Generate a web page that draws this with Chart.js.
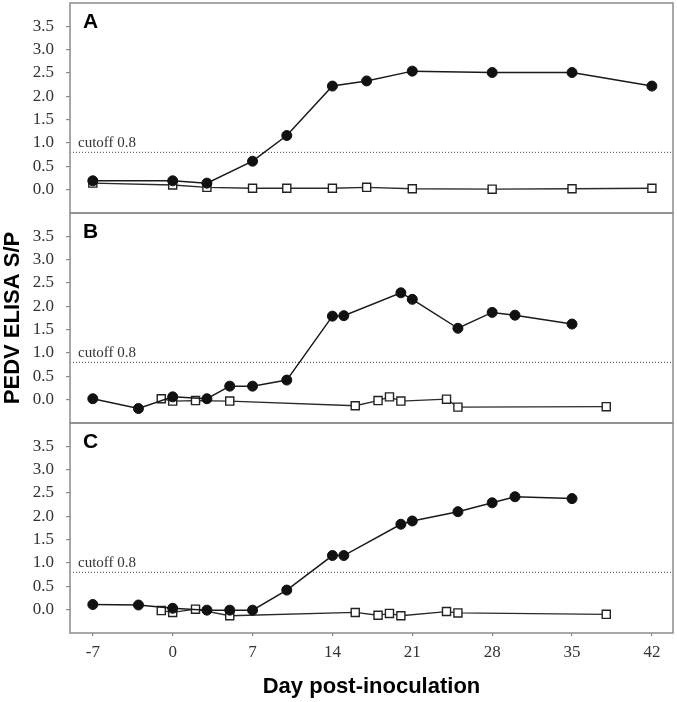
<!DOCTYPE html>
<html>
<head>
<meta charset="utf-8">
<script src="https://cdn.jsdelivr.net/npm/chart.js@4/dist/chart.umd.min.js"></script>
<style>
  html, body { margin: 0; padding: 0; background: #fff; }
  #wrap { position: relative; width: 677px; height: 702px; }
  #wrap canvas { position: absolute; left: 0; top: 0; }
</style>
</head>
<body>
<div id="wrap">
  <canvas id="cA" width="677" height="702"></canvas>
  <canvas id="cB" width="677" height="702"></canvas>
  <canvas id="cC" width="677" height="702"></canvas>
</div>
<script>
// ---- data ----
const xTickValues = [-7, 0, 7, 14, 21, 28, 35, 42];
const yTickValues = [0, 0.5, 1, 1.5, 2, 2.5, 3, 3.5];
const xMin = -9, xMax = 43.85;
const yMin = -0.5, yMax = 4.0;
const cutoff = 0.8;
const xTitle = 'Day post-inoculation';
const yTitle = 'PEDV ELISA S/P';

const aInfDays = [-7, 0, 3, 7, 10, 14, 17, 21, 28, 35, 42];
const aInfVals = [0.19, 0.19, 0.14, 0.61, 1.16, 2.22, 2.33, 2.54, 2.51, 2.51, 2.22];
const aCtlDays = [-7, 0, 3, 7, 10, 14, 17, 21, 28, 35, 42];
const aCtlVals = [0.14, 0.10, 0.05, 0.03, 0.03, 0.03, 0.05, 0.02, 0.01, 0.02, 0.03];

const bInfDays = [-7, -3, 0, 3, 5, 7, 10, 14, 15, 20, 21, 25, 28, 30, 35];
const bInfVals = [0.02, -0.19, 0.06, 0.02, 0.29, 0.29, 0.42, 1.79, 1.80, 2.29, 2.15, 1.53, 1.87, 1.81, 1.62];
const bCtlDays = [-1, 0, 2, 5, 16, 18, 19, 20, 24, 25, 38];
const bCtlVals = [0.02, -0.03, -0.02, -0.03, -0.13, -0.02, 0.06, -0.03, 0.01, -0.16, -0.15];

const cInfDays = [-7, -3, 0, 3, 5, 7, 10, 14, 15, 20, 21, 25, 28, 30, 35];
const cInfVals = [0.11, 0.10, 0.03, -0.01, -0.01, -0.01, 0.42, 1.16, 1.16, 1.83, 1.90, 2.10, 2.29, 2.42, 2.38];
const cCtlDays = [-1, 0, 2, 5, 16, 18, 19, 20, 24, 25, 38];
const cCtlVals = [-0.02, -0.06, 0.01, -0.13, -0.06, -0.12, -0.08, -0.13, -0.04, -0.07, -0.10];

// ---- helpers ----
const W = 677, H = 702;
const AXIS_LEFT = 70, RIGHT_PAD = 4;
const SERIF = "'Liberation Serif', 'Times New Roman', serif";
const SANS = "'Liberation Sans', Arial, sans-serif";
const FRAME = '#8c8c8c';

function pts(days, vals) { return days.map((d, i) => ({ x: d, y: vals[i] })); }

const panelPlugin = {
  id: 'panelDeco',
  afterDatasetsDraw(chart, args, opts) {
    const { ctx, chartArea } = chart;
    const ys = chart.scales.y;
    ctx.save();
    ctx.strokeStyle = FRAME;
    ctx.lineWidth = 1.5;
    ctx.strokeRect(chartArea.left, chartArea.top, chartArea.right - chartArea.left, chartArea.bottom - chartArea.top);
    ctx.fillStyle = '#333';
    ctx.font = '15px ' + SERIF;
    ctx.textBaseline = 'alphabetic';
    ctx.textAlign = 'left';
    ctx.fillText('cutoff ' + cutoff, chartArea.left + 8, ys.getPixelForValue(cutoff) - 5);
    ctx.fillStyle = '#000';
    ctx.font = 'bold 21px ' + SANS;
    ctx.fillText(opts.letter, chartArea.left + 13, chartArea.top + 25);
    ctx.restore();
  }
};

function makePanel(id, letter, infD, infV, ctlD, ctlV, top, bottom, showX, showYTitle) {
  const xAxisH = showX ? 69 : 0;
  return new Chart(document.getElementById(id), {
    type: 'line',
    data: {
      datasets: [
        {
          data: pts(infD, infV), order: 0,
          borderColor: '#1a1a1a', borderWidth: 1.5, tension: 0,
          pointStyle: 'circle', pointRadius: 5, pointBackgroundColor: '#111', pointBorderColor: '#111', pointBorderWidth: 1
        },
        {
          data: pts(ctlD, ctlV), order: 1,
          borderColor: '#2a2a2a', borderWidth: 1.3, tension: 0,
          pointStyle: 'rect', pointRadius: 5.7, pointBackgroundColor: '#fff', pointBorderColor: '#222', pointBorderWidth: 1.4
        },
        {
          data: [{ x: xMin, y: cutoff }, { x: xMax, y: cutoff }], order: 2,
          borderColor: '#444', borderWidth: 1, borderDash: [1, 2], pointRadius: 0, tension: 0
        }
      ]
    },
    options: {
      responsive: false, animation: false, devicePixelRatio: 1,
      layout: { autoPadding: false, padding: { top: top, bottom: H - bottom - xAxisH, left: 0, right: RIGHT_PAD } },
      plugins: { legend: { display: false }, tooltip: { enabled: false }, panelDeco: { letter: letter } },
      scales: {
        x: {
          type: 'linear', min: xMin, max: xMax, display: showX,
          afterBuildTicks: s => { s.ticks = xTickValues.map(v => ({ value: v })); },
          afterFit: s => { s.height = xAxisH; s.paddingLeft = 0; s.paddingRight = 0; },
          border: { display: false },
          grid: { drawOnChartArea: false, drawTicks: true, tickLength: 3, color: FRAME, lineWidth: 1.2 },
          ticks: { color: '#333', font: { family: SERIF, size: 17 }, padding: 6, maxRotation: 0, autoSkip: false, callback: v => String(v) },
          title: { display: true, text: xTitle, color: '#000', font: { family: SANS, size: 22, weight: 'bold' }, padding: { top: 0, bottom: 2 } }
        },
        y: {
          type: 'linear', min: yMin, max: yMax,
          afterBuildTicks: s => { s.ticks = yTickValues.map(v => ({ value: v })); },
          afterFit: s => { s.width = AXIS_LEFT; s.paddingTop = 0; s.paddingBottom = 0; },
          border: { display: false },
          grid: { drawOnChartArea: false, drawTicks: true, tickLength: 4, color: FRAME, lineWidth: 1.2 },
          ticks: { color: '#333', font: { family: SERIF, size: 17 }, padding: 12, autoSkip: false, callback: v => Number(v).toFixed(1) },
          title: { display: showYTitle, text: yTitle, color: '#000', font: { family: SANS, size: 22, weight: 'bold' }, padding: { top: 0, bottom: 0 } }
        }
      }
    },
    plugins: [panelPlugin]
  });
}

makePanel('cA', 'A', aInfDays, aInfVals, aCtlDays, aCtlVals, 3, 213, false, false);
makePanel('cB', 'B', bInfDays, bInfVals, bCtlDays, bCtlVals, 213, 423, false, true);
makePanel('cC', 'C', cInfDays, cInfVals, cCtlDays, cCtlVals, 423, 633, true, false);
</script>
</body>
</html>
